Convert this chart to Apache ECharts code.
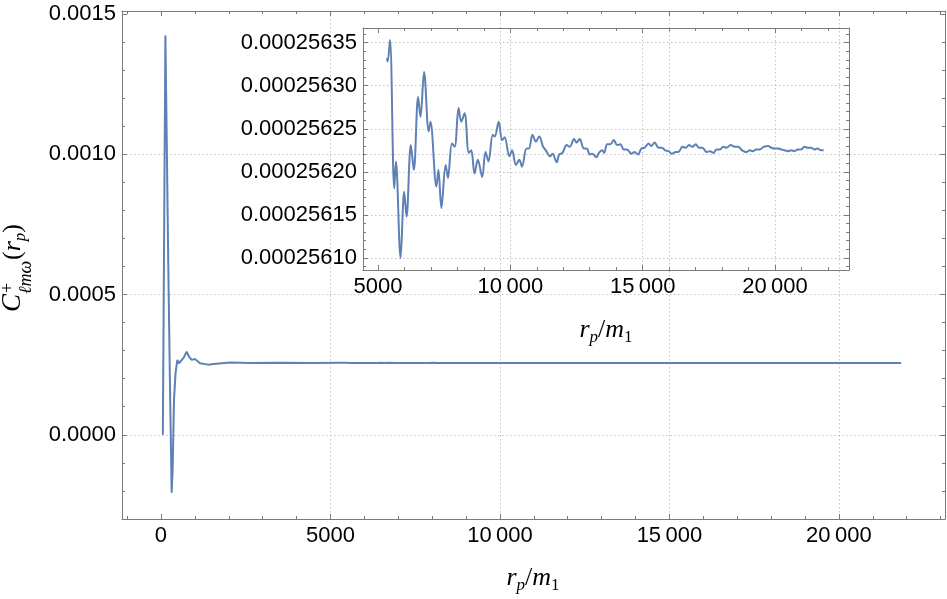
<!DOCTYPE html>
<html><head><meta charset="utf-8">
<script src="https://cdn.jsdelivr.net/npm/echarts@6/dist/echarts.min.js"></script>
<style>html,body{margin:0;padding:0;background:#fff}#c{width:947px;height:599px}</style>
</head><body><div id="c"></div>
<script>
// ---- data ----
const earlyR = [55, 130, 170, 216, 265, 315, 345, 384, 430, 483, 530, 580, 670, 757, 830, 905, 1003, 1150, 1395, 1545, 2037, 2625, 3500, 4500];
const earlyC = [0, 0.001423, 0.00105, 0.000599, 0.00018, -0.000206, -0.00012, 0.000125, 0.00022, 0.000267, 0.000255, 0.000249, 0.000275, 0.000296, 0.000278, 0.000267, 0.000270, 0.000255, 0.000250, 0.000252, 0.000258, 0.000256, 0.0002563, 0.0002562];
const insetR = [5327, 5364, 5451, 5614, 5677, 5853, 5989, 6078, 6240, 6353, 6515, 6604, 6740, 6917, 6981, 7207, 7282, 7395, 7556, 7643, 7793, 7895, 8045, 8146, 8270, 8432, 8522, 8646, 8771, 8936, 9060, 9173, 9334, 9409, 9560, 9688, 9785, 9962, 10063, 10213, 10338, 10439, 10612, 10700, 10838, 10966, 11090, 11240, 11340, 11503, 11590, 11755, 11842, 11967, 12131, 12245, 12406, 12506, 12620, 12781, 12882, 13007, 13095, 13246, 13345, 13470, 13545, 13658, 13783, 13909, 14034, 14159, 14284, 14409, 14573, 14698, 14823, 14948, 15073, 15224, 15324, 15450, 15600, 15725, 15851, 15976, 16101, 16251, 16351, 16502, 16627, 16752, 16877, 17003, 17128, 17253, 17419, 17544, 17669, 17794, 17920, 18045, 18170, 18320, 18483, 18608, 18758, 18920, 19045, 19171, 19296, 19421, 19571, 19734, 19859, 19985, 20110, 20235, 20360, 20485, 20611, 20736, 20861, 20986, 21111, 21236, 21362, 21487, 21612, 21737, 21837];
const insetC = [0.000256332, 0.000256328, 0.000256353, 0.000256181, 0.000256212, 0.000256100, 0.000256177, 0.000256148, 0.000256231, 0.000256202, 0.000256287, 0.000256264, 0.000256316, 0.000256247, 0.000256258, 0.000256183, 0.000256202, 0.000256158, 0.000256208, 0.000256193, 0.000256233, 0.000256229, 0.000256274, 0.000256258, 0.000256268, 0.000256222, 0.000256225, 0.000256198, 0.000256214, 0.000256194, 0.000256223, 0.000256212, 0.000256243, 0.000256241, 0.000256258, 0.000256237, 0.000256240, 0.000256218, 0.000256225, 0.000256208, 0.000256214, 0.000256206, 0.000256227, 0.000256227, 0.000256243, 0.000256235, 0.000256241, 0.000256229, 0.000256225, 0.000256218, 0.000256221, 0.000256211, 0.000256220, 0.000256222, 0.000256231, 0.000256229, 0.000256238, 0.000256234, 0.000256238, 0.000256227, 0.000256227, 0.000256220, 0.000256221, 0.000256217, 0.000256222, 0.000256225, 0.000256222, 0.000256232, 0.000256232, 0.000256237, 0.000256231, 0.000256232, 0.000256226, 0.000256226, 0.000256221, 0.000256223, 0.000256220, 0.000256227, 0.000256228, 0.000256233, 0.000256230, 0.000256234, 0.000256228, 0.000256228, 0.000256225, 0.000256224, 0.000256221, 0.000256223, 0.000256223, 0.000256229, 0.000256228, 0.000256231, 0.000256229, 0.000256232, 0.000256228, 0.000256228, 0.000256223, 0.000256224, 0.000256222, 0.000256226, 0.000256226, 0.000256229, 0.000256228, 0.000256231, 0.000256229, 0.000256229, 0.000256225, 0.000256223, 0.000256225, 0.000256224, 0.000256226, 0.000256226, 0.000256229, 0.000256230, 0.000256228, 0.000256227, 0.000256227, 0.000256226, 0.000256225, 0.000256224, 0.000256225, 0.000256224, 0.000256226, 0.000256226, 0.000256229, 0.000256228, 0.000256228, 0.000256226, 0.000256227, 0.000256225, 0.000256225];

// tick labels / tick positions
const mainXMajor = [0, 5000, 10000, 15000, 20000];
const mainXMinor = [-1000, 1000, 2000, 3000, 4000, 6000, 7000, 8000, 9000, 11000, 12000, 13000, 14000, 16000, 17000, 18000, 19000, 21000, 22000, 23000];
const mainXGrid = [5000, 10000, 15000, 20000];
const mainYMajor = [0, 0.0005, 0.0010, 0.0015];
const mainYMinor = [-0.0003, -0.0002, -0.0001, 0.0001, 0.0002, 0.0003, 0.0004, 0.0006, 0.0007, 0.0008, 0.0009, 0.0011, 0.0012, 0.0013, 0.0014];
const mainYGrid = [0, 0.0005, 0.0010];
const insetXMajor = [5000, 10000, 15000, 20000];
const insetXMinor = [6000, 7000, 8000, 9000, 11000, 12000, 13000, 14000, 16000, 17000, 18000, 19000, 21000, 22000];
const insetXGrid = [10000, 15000, 20000];
const insetYMajor = [0.00025610, 0.00025615, 0.00025620, 0.00025625, 0.00025630, 0.00025635];
const insetYMinor = [0.00025609, 0.00025611, 0.00025612, 0.00025613, 0.00025614, 0.00025616, 0.00025617, 0.00025618, 0.00025619, 0.00025621, 0.00025622, 0.00025623, 0.00025624, 0.00025626, 0.00025627, 0.00025628, 0.00025629, 0.00025631, 0.00025632, 0.00025633, 0.00025634, 0.00025636];
const insetYGrid = insetYMajor;

const FRAME = '#7a7a7a', GRIDC = '#c2c2c2', LINE = '#5E81B5';
const FONT = 'Liberation Sans', SERIF = 'Liberation Serif';

const MX = [-1150, 23130], MY = [-0.0003, 0.00151];
const IX = [4433, 22795], IY = [0.000256086, 0.000256367];

function tickAxis(g, pos, ext, vals, len, line) {
  return {type: 'value', gridIndex: g, position: pos, min: ext[0], max: ext[1],
    axisLine: {show: line, onZero: false, lineStyle: {color: FRAME, width: 1}},
    axisTick: {show: true, inside: true, length: len, customValues: vals, lineStyle: {color: FRAME, width: 1}},
    axisLabel: {show: false}, splitLine: {show: false}, minorTick: {show: false}, silent: true, z: 3};
}
function gridAxis(g, pos, ext, vals) {
  return {type: 'value', gridIndex: g, position: pos, min: ext[0], max: ext[1],
    axisLine: {show: false}, axisTick: {show: false, customValues: vals},
    axisLabel: {show: false}, silent: true,
    splitLine: {show: true, lineStyle: {color: GRIDC, width: 1, type: [1.5, 2.5]}}, z: 0};
}
function labelAxis(g, pos, ext, vals, fmt) {
  const a = tickAxis(g, pos, ext, vals, 5, true);
  a.axisLabel = {show: true, customValues: vals, formatter: fmt, color: '#000', fontFamily: FONT, fontSize: 22, margin: 6,
    showMinLabel: true, showMaxLabel: true};
  return a;
}
const fmtX = v => { const s = String(Math.round(v)); return s.length > 4 ? s.slice(0, s.length - 3) + '\u2009' + s.slice(-3) : s; };
const fmtMY = v => v.toFixed(4);
const fmtIY = v => v.toFixed(8);

const xAxes = [
  labelAxis(0, 'bottom', MX, mainXMajor, fmtX),
  tickAxis(0, 'bottom', MX, mainXMinor, 3, false),
  tickAxis(0, 'top', MX, mainXMajor, 5, true),
  tickAxis(0, 'top', MX, mainXMinor, 3, false),
  gridAxis(0, 'bottom', MX, mainXGrid),
  labelAxis(1, 'bottom', IX, insetXMajor, fmtX),
  tickAxis(1, 'bottom', IX, insetXMinor, 3, false),
  tickAxis(1, 'top', IX, insetXMajor, 5, true),
  tickAxis(1, 'top', IX, insetXMinor, 3, false),
  gridAxis(1, 'bottom', IX, insetXGrid)
];
const yAxes = [
  labelAxis(0, 'left', MY, mainYMajor, fmtMY),
  tickAxis(0, 'left', MY, mainYMinor, 3, false),
  tickAxis(0, 'right', MY, mainYMajor, 5, true),
  tickAxis(0, 'right', MY, mainYMinor, 3, false),
  gridAxis(0, 'left', MY, mainYGrid),
  labelAxis(1, 'left', IY, insetYMajor, fmtIY),
  tickAxis(1, 'left', IY, insetYMinor, 3, false),
  tickAxis(1, 'right', IY, insetYMajor, 5, true),
  tickAxis(1, 'right', IY, insetYMinor, 3, false),
  gridAxis(1, 'left', IY, insetYGrid)
];

const mainR = earlyR.concat(insetR), mainC = earlyC.concat(insetC);
const mainData = mainR.map((r, i) => [r, mainC[i]]);
const insetData = insetR.map((r, i) => [r, insetC[i]]);

const mathRich = {
  i: {fontFamily: SERIF, fontStyle: 'italic', fontSize: 26, fill: '#000'},
  n: {fontFamily: SERIF, fontSize: 26, fill: '#000'},
  s: {fontFamily: SERIF, fontStyle: 'italic', fontSize: 17, fill: '#000', padding: [16, 0, 0, 0]},
  d: {fontFamily: SERIF, fontSize: 17, fill: '#000', padding: [16, 0, 0, 0]}
};
function rpTitle(cx, cy) {
  return {type: 'text', x: cx, y: cy, z: 10, style: {text: '{i|r}{s|p}{n|/}{i|m}{d|1}', align: 'center', verticalAlign: 'middle', rich: mathRich}};
}

const chart = echarts.init(document.getElementById('c'), null, {renderer: 'canvas'});
chart.setOption({
  animation: false,
  backgroundColor: '#fff',
  grid: [
    {left: 122, top: 11, width: 823, height: 508, containLabel: false},
    {left: 363, top: 28, width: 486, height: 242, containLabel: false}
  ],
  xAxis: xAxes,
  yAxis: yAxes,
  series: [
    {type: 'line', xAxisIndex: 0, yAxisIndex: 0, data: mainData, showSymbol: false, symbol: 'none',
      lineStyle: {color: LINE, width: 2}, z: 2, silent: true},
    {type: 'line', xAxisIndex: 5, yAxisIndex: 5, data: insetData, showSymbol: false, symbol: 'none', smooth: 0.35,
      lineStyle: {color: LINE, width: 2}, z: 2, silent: true}
  ],
  graphic: [
    rpTitle(533, 578),
    rpTitle(606, 330),
    {type: 'group', x: 22, y: 312, rotation: Math.PI / 2, children: [
      {type: 'text', x: 0, y: -9, style: {text: 'C', fontFamily: SERIF, fontStyle: 'italic', fontSize: 27, fill: '#000', align: 'left', verticalAlign: 'middle'}},
      {type: 'text', x: 19, y: -14, style: {text: '+', fontFamily: SERIF, fontSize: 18, fill: '#000', align: 'left', verticalAlign: 'middle'}},
      {type: 'text', x: 18, y: 4, style: {text: 'ℓmω', fontFamily: SERIF, fontStyle: 'italic', fontSize: 18, fill: '#000', align: 'left', verticalAlign: 'middle'}},
      {type: 'text', x: 52, y: -9, style: {text: '{n|(}{i|r}{s|p}{n|)}', align: 'left', verticalAlign: 'middle', rich: mathRich}}
    ]}
  ]
});
</script>
</body></html>
